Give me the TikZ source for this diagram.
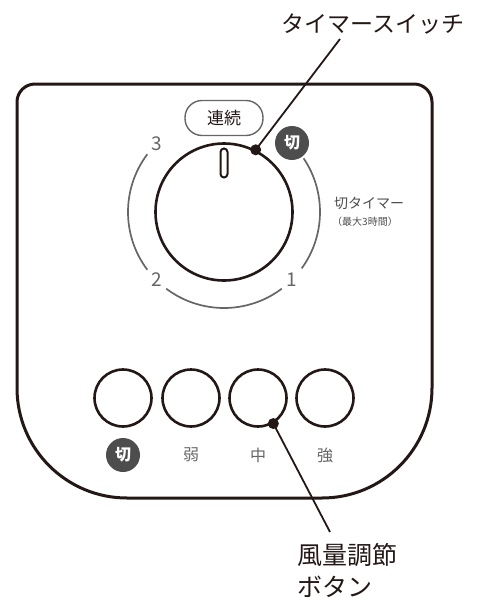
\documentclass[tikz,border=0pt]{standalone}
\usepackage{fontspec}
\setmainfont{Noto Sans CJK JP}
\definecolor{ink}{HTML}{231815}
\definecolor{scalegray}{HTML}{666666}
\definecolor{badgegray}{HTML}{4D4D4D}
\tikzset{
  panel/.style={draw=ink, line width=3pt},
  knob/.style={circle, draw=ink, line width=2.6pt, inner sep=0pt},
  scalearc/.style={draw=scalegray, line width=1.7pt},
  scalenum/.style={text=scalegray, font=\fontsize{19}{19}\selectfont, inner sep=0pt},
  badge/.style={circle, fill=badgegray, text=white, minimum size=34pt, inner sep=0pt,
    font=\bfseries\fontsize{16}{16}\selectfont},
  speedlabel/.style={text=scalegray, font=\fontsize{16}{16}\selectfont, inner sep=0pt},
  leader/.style={draw=ink, line width=1.8pt},
  leaderdot/.style={circle, fill=ink, minimum size=11pt, inner sep=0pt},
  callout/.style={text=ink, inner sep=0pt, font=\fontsize{23}{31}\selectfont}
}
\begin{document}
\begin{tikzpicture}[x=1pt, y=-1pt]
  \useasboundingbox (0,0) rectangle (483,602);

  % body
  \draw [panel] (17,102) arc[start angle=180, end angle=270, radius=18] -- (414,84)
    arc[start angle=270, end angle=360, radius=18] -- (432,388)
    arc[start angle=0, end angle=90, radius=110] -- (127,498)
    arc[start angle=90, end angle=180, radius=110] -- cycle;

  % timer dial
  \node [knob, minimum size=137pt] (dial) at (224,212) {};
  \node [draw=ink, line width=2pt, rounded corners=3.5pt, minimum width=7pt,
    minimum height=29pt, inner sep=0pt] (mark) at (224,163) {};
  \node [draw=scalegray, line width=1.4pt, rounded corners=17pt, minimum width=78pt,
    minimum height=35pt, inner sep=0pt, text=ink, font=\fontsize{17}{17}\selectfont]
    (renzoku) at (224,118) {連続};

  \draw [scalearc] (dial.center) ++(143:96) arc[start angle=143, end angle=217, radius=96];
  \draw [scalearc] (dial.center) ++(53:96) arc[start angle=53, end angle=127, radius=96];
  \draw [scalearc] (dial.center) ++(-34:96) arc[start angle=-34, end angle=36, radius=96];

  \node [scalenum] (n3) at (157,144) {3};
  \node [scalenum] (n2) at (157,280) {2};
  \node [scalenum] (n1) at (292,280) {1};
  \node [badge] (off1) at (292,143) {切};

  \node [anchor=west, inner sep=0pt, text=badgegray, font=\fontsize{14}{14}\selectfont]
    (offtimer) at (334,203) {切タイマー};
  \node [anchor=west, inner sep=0pt, text=badgegray, font=\fontsize{10}{10}\selectfont]
    (maxhours) at (332,222) {（最大3時間）};

  % speed buttons
  \foreach \name/\x/\txt in {b1/123/切, b2/191/弱, b3/258/中, b4/325/強} {
    \node [knob, minimum size=57pt] (\name) at (\x,398) {};
  }
  \node [badge] (off2) at (123,455) {切};
  \node [speedlabel] (weak) at (191,455) {弱};
  \node [speedlabel] (mid) at (258,455) {中};
  \node [speedlabel] (strong) at (325,455) {強};

  % callouts
  \node [leaderdot] (tdot) at (dial.63) {};
  \coordinate (tend) at (340,39);
  \draw [leader] (tdot.center) -- (tend);
  \node [callout] (timersw) at (373,24) {タイマースイッチ};

  \node [leaderdot] (bdot) at (b3.-59) {};
  \coordinate (bend) at (330,532);
  \draw [leader] (bdot.center) -- (bend);
  \node [callout, anchor=north west, align=left, font=\fontsize{25}{32}\selectfont]
    (fanbtn) at (297,543) {風量調節\\ボタン};

\end{tikzpicture}
\end{document}
